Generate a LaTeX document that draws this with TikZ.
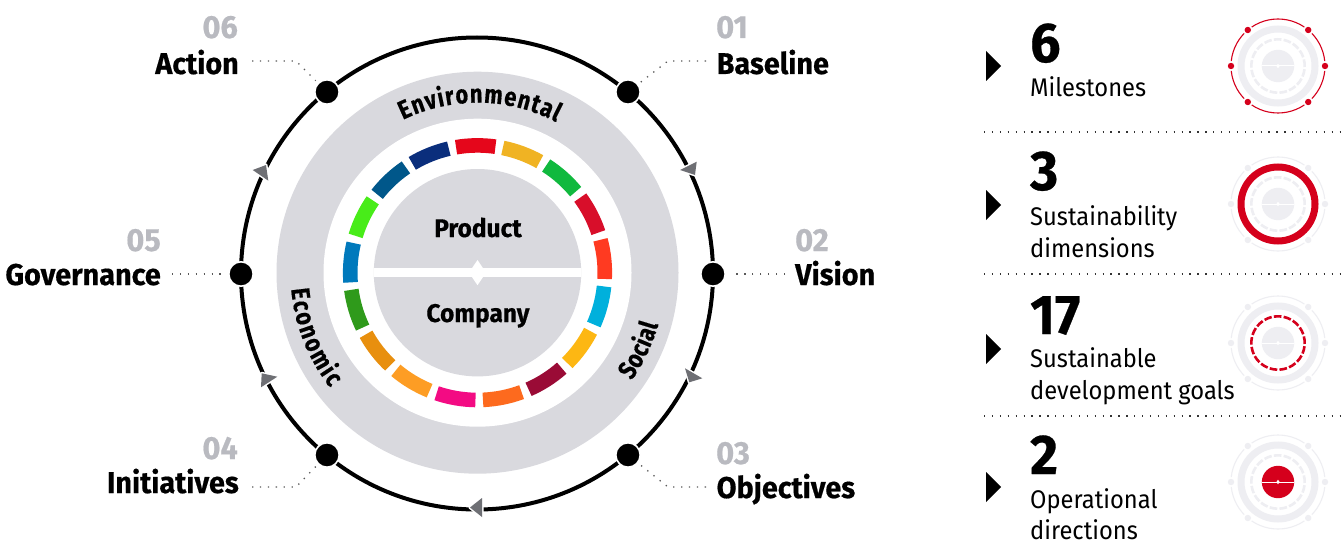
\documentclass[tikz,border=0pt]{standalone}
\usepackage{fontspec}
\usetikzlibrary{decorations.text}
\newfontfamily\fb{Fira Sans}[FakeStretch=0.96,BoldFeatures={FakeStretch=0.96,FakeBold=0.5}]
\newfontfamily\fc{Fira Sans}[FakeStretch=0.84,BoldFeatures={FakeStretch=0.84,FakeBold=0.5}]
\newfontfamily\fr{Fira Sans}[FakeStretch=0.93]
\newcommand\tbf[1]{\fb\bfseries\fontsize{#1}{#1}\selectfont}
\newcommand\tcb[1]{\fc\bfseries\fontsize{#1}{#1}\selectfont}
\newcommand\trg[1]{\fr\fontsize{#1}{#1}\selectfont}
\definecolor{pgrey}{HTML}{D9D9DE}
\definecolor{lgrey}{HTML}{EEEEF2}
\definecolor{ngrey}{HTML}{B9BAC0}
\definecolor{agrey}{HTML}{6E6F74}
\definecolor{pred}{HTML}{D5001C}
\definecolor{s0}{HTML}{E5061B}\definecolor{s1}{HTML}{F0B323}\definecolor{s2}{HTML}{10B93E}
\definecolor{s3}{HTML}{D80E2A}\definecolor{s4}{HTML}{FF3A21}\definecolor{s5}{HTML}{00B0DC}
\definecolor{s6}{HTML}{FDB713}\definecolor{s7}{HTML}{9A0B36}\definecolor{s8}{HTML}{FD6A1E}
\definecolor{s9}{HTML}{F30B83}\definecolor{s10}{HTML}{FD9D24}\definecolor{s11}{HTML}{E88F0E}
\definecolor{s12}{HTML}{2F9A1B}\definecolor{s13}{HTML}{0079BC}\definecolor{s14}{HTML}{48EC19}
\definecolor{s15}{HTML}{00578A}\definecolor{s16}{HTML}{0A2E7C}
\tikzset{
  x=1pt,y=1pt,
  stagelabel/.style={inner sep=0pt,font=\tbf{30}},
  stagenum/.style={inner sep=0pt,text=ngrey,font=\tbf{32}},
  stagedot/.style={circle,fill=black,draw=white,line width=1.6pt,minimum size=24.4pt,inner sep=0pt},
  leader/.style={draw=black!65,line width=1.3pt,dash pattern=on 1.3pt off 6.6pt},
  sepline/.style={draw=black!80,line width=1.3pt,dash pattern=on 1.3pt off 6.6pt},
  arrowtri/.style={fill=agrey,preaction={draw=white,line width=3pt,line join=round}},
  bignum/.style={inner sep=0pt,font=\tbf{56},anchor=base west},
  sublabel/.style={inner sep=0pt,font=\trg{25.5},anchor=base west},
  bullet/.style={fill=black},
}
\newcommand\miniicon[6]{% name, y, ring col, band col, dash col, disc col
  \begin{scope}[shift={(1278,-#2)}]
    \draw[#3,line width=1.1pt] (0,0) circle[radius=47pt];
    \foreach \a in {50,130,180,230,310,0}
      \fill[white] (\a:47pt) circle[radius=5pt];
    \foreach \a in {50,130,180,230,310,0}
      \fill[#3] (\a:47pt) circle[radius=3.2pt];
    \draw[#4,line width=7pt] (0,0) circle[radius=37pt];
    \foreach \k in {0,...,16}
      \draw[#5,line width=2.6pt] ({90+0.8-21.18*\k+8.2}:26.7pt) arc[start angle={90+0.8-21.18*\k+8.2},end angle={90+0.8-21.18*\k-8.2},radius=26.7pt];
    \fill[#6] (0,0) circle[radius=16.2pt];
    \draw[white,line width=1pt] (-16.2,0) -- (16.2,0);
    \fill[white] (-1.6,0) -- (0,2.3) -- (1.6,0) -- (0,-2.3) -- cycle;
    \coordinate (#1) at (0,0);
  \end{scope}
}
\begin{document}
\begin{tikzpicture}
\fill[white] (0,-543) rectangle (1344,0);
\useasboundingbox (0,-543) rectangle (1344,0);
\coordinate (cd) at (477.5,-272.7);
\coordinate (cr) at (477,-273.5);
% grey discs
\fill[pgrey] (cd) circle[radius=201pt];
\fill[white] (cd) circle[radius=154pt];
\fill[pgrey] (cd) circle[radius=103.7pt];
% SDG segments
\begin{scope}[shift={(cd)}]
\foreach \k in {0,...,16}
  \draw[s\k,line width=14.6pt] ({90+0.8-21.18*\k+8.9}:127.3pt) arc[start angle={90+0.8-21.18*\k+8.9},end angle={90+0.8-21.18*\k-8.9},radius=127.3pt];
\path[decorate,decoration={text along path,text align={fit to path},text={|\tcb{26}|Environmental}}] (116:170pt) arc[start angle=116,end angle=62.5,radius=170pt];
\path[decorate,decoration={text along path,text align={fit to path},text={|\tcb{26}|Economic}}] (185:187pt) arc[start angle=185,end angle=218,radius=187pt];
\path[decorate,decoration={text along path,text align={fit to path},text={|\tcb{26}|Social}}] (-35:188pt) arc[start angle=-35,end angle=-16,radius=188pt];
\end{scope}
% centre bar
\draw[white,line width=9pt] (374,-272.7) -- (581,-272.7);
\fill[white] (469,-272.7) -- (477.5,-260) -- (486,-272.7) -- (477.5,-285.2) -- cycle;
\node[inner sep=0pt,anchor=base,font=\tbf{25.5}] (prod) at (478,-237) {Product};
\node[inner sep=0pt,anchor=base,font=\tbf{25.5}] (comp) at (478,-322) {Company};
% outer ring
\draw[black,line width=4pt] (cr) circle[radius=236pt];
% arrow triangles
\path[arrowtri] (696.7,-161.7) -- (680,-170) -- (695,-175) -- cycle;
\path[arrowtri] (685,-368.3) -- (702.3,-378.3) -- (689.3,-382.3) -- cycle;
\path[arrowtri] (470,-507.5) -- (482,-498) -- (482,-517) -- cycle;
\path[arrowtri] (261.7,-373.3) -- (277.3,-376.7) -- (261,-387.3) -- cycle;
\path[arrowtri] (252.7,-170) -- (266,-165) -- (268.3,-180.7) -- cycle;
% dots
\node[stagedot] (d1) at (628,-92) {};
\node[stagedot] (d2) at (713,-274) {};
\node[stagedot] (d3) at (628,-455) {};
\node[stagedot] (d4) at (327,-455) {};
\node[stagedot] (d5) at (241,-274) {};
\node[stagedot] (d6) at (327,-92) {};
% stage labels
\node[stagenum,anchor=base west] (n1) at (716,-38) {01};
\node[stagelabel,anchor=base west] (l1) at (716.5,-74) {Baseline};
\node[stagenum,anchor=base west] (n2) at (795,-251) {02};
\node[stagelabel,anchor=base west] (l2) at (795,-285) {Vision};
\node[stagenum,anchor=base west] (n3) at (716,-464) {03};
\node[stagelabel,anchor=base west] (l3) at (716.5,-498) {Objectives};
\node[stagenum,anchor=base east] (n4) at (238,-459) {04};
\node[stagelabel,anchor=base east] (l4) at (239,-493) {Initiatives};
\node[stagenum,anchor=base east] (n5) at (161,-251) {05};
\node[stagelabel,anchor=base east] (l5) at (161,-285) {Governance};
\node[stagenum,anchor=base east] (n6) at (238,-38) {06};
\node[stagelabel,anchor=base east] (l6) at (239,-74) {Action};
% leaders
\coordinate (a1) at (706,-61); \coordinate (k1) at (668,-61);
\coordinate (a3) at (706,-487); \coordinate (k3) at (668,-487);
\coordinate (a4) at (252,-487); \coordinate (k4) at (296,-487);
\coordinate (a6) at (252,-61); \coordinate (k6) at (296,-61);
\coordinate (a2) at (785,-274); \coordinate (a5) at (172,-274);
\draw[leader,shorten >=3pt] (a1) -- (k1) -- (d1);
\draw[leader,shorten >=3pt] (a3) -- (k3) -- (d3);
\draw[leader,shorten >=3pt] (a4) -- (k4) -- (d4);
\draw[leader,shorten >=3pt] (a6) -- (k6) -- (d6);
\draw[leader,shorten >=6pt] (a2) -- (d2);
\draw[leader,shorten >=5pt] (a5) -- (d5);
% right column
\fill[bullet] (986,-51) -- (1001,-66) -- (986,-81) -- cycle;
\fill[bullet] (986,-190) -- (1001,-205) -- (986,-220) -- cycle;
\fill[bullet] (986,-334) -- (1001,-349) -- (986,-364) -- cycle;
\fill[bullet] (986,-472) -- (1001,-487) -- (986,-502) -- cycle;
\node[bignum] (b1) at (1030,-62) {6};
\node[sublabel] (t1) at (1030,-96) {Milestones};
\node[bignum] (b2) at (1030,-190) {3};
\node[sublabel] (t2) at (1030,-225) {Sustainability};
\node[sublabel] (t2b) at (1030,-257) {dimensions};
\node[bignum] (b3) at (1030,-334) {17};
\node[sublabel] (t3) at (1030,-367) {Sustainable};
\node[sublabel] (t3b) at (1030,-399) {development goals};
\node[bignum] (b4) at (1030,-474) {2};
\node[sublabel] (t4) at (1030,-508) {Operational};
\node[sublabel] (t4b) at (1030,-539.5) {directions};
\coordinate (s1a) at (984,-132); \coordinate (s1b) at (1340,-132);
\coordinate (s2a) at (984,-274); \coordinate (s2b) at (1340,-274);
\coordinate (s3a) at (984,-416); \coordinate (s3b) at (1340,-416);
\draw[sepline] (s1a) -- (s1b);
\draw[sepline] (s2a) -- (s2b);
\draw[sepline] (s3a) -- (s3b);
\miniicon{i1}{66}{pred}{lgrey}{lgrey}{lgrey}
\miniicon{i2}{204}{lgrey}{pred}{lgrey}{lgrey}
\miniicon{i3}{343}{lgrey}{lgrey}{pred}{lgrey}
\miniicon{i4}{482}{lgrey}{lgrey}{lgrey}{pred}
\end{tikzpicture}
\end{document}
